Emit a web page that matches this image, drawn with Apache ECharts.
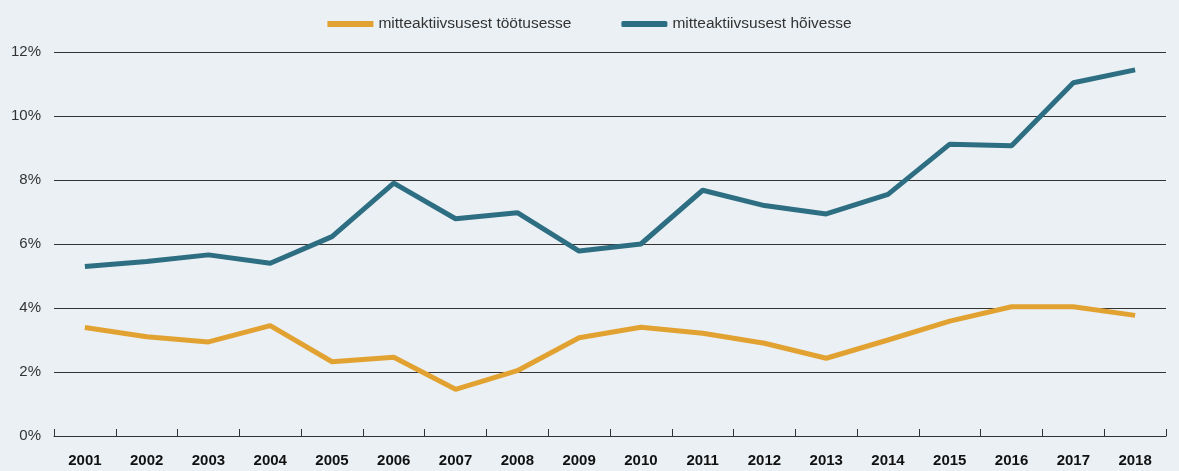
<!DOCTYPE html>
<html>
<head>
<meta charset="utf-8">
<script src="https://cdn.jsdelivr.net/npm/echarts@6/dist/echarts.min.js"></script>
<style>
	html, body { margin: 0; padding: 0; background: #eaf0f4; }
	#chart { width: 1179px; height: 471px; }
</style>
</head>
<body>
<div id="chart"></div>
<script>
	const years = ['2001', '2002', '2003', '2004', '2005', '2006', '2007', '2008', '2009',
		'2010', '2011', '2012', '2013', '2014', '2015', '2016', '2017', '2018'];
	// mitteaktiivsusest töötusesse
	const toUnemployment = [3.39, 3.1, 2.94, 3.45, 2.32, 2.46, 1.46, 2.04, 3.07,
		3.4, 3.21, 2.9, 2.43, 3.0, 3.59, 4.04, 4.04, 3.77];
	// mitteaktiivsusest hõivesse
	const toEmployment = [5.3, 5.45, 5.66, 5.4, 6.23, 7.9, 6.79, 6.98, 5.78,
		6.0, 7.68, 7.2, 6.94, 7.55, 9.12, 9.07, 11.04, 11.44];

	const orange = '#e2a232';
	const blue = '#2e6e82';

	var chart = echarts.init(document.getElementById('chart'));

	option = {
		backgroundColor: '#eaf0f4',
		textStyle: {
			fontFamily: 'Liberation Sans, Arial, sans-serif'
		},
		legend: {
			top: 11,
			left: 'center',
			itemWidth: 46,
			itemHeight: 6,
			itemGap: 50,
			textStyle: {
				color: '#333',
				fontSize: 15.5
			},
			data: [{
				name: 'mitteaktiivsusest töötusesse',
				icon: 'rect'
			}, {
				name: 'mitteaktiivsusest hõivesse',
				icon: 'roundRect'
			}]
		},
		grid: {
			left: 54,
			right: 13,
			top: 52,
			bottom: 35,
			containLabel: false
		},
		xAxis: {
			type: 'category',
			data: years,
			boundaryGap: true,
			axisLine: {
				lineStyle: {
					color: '#333',
					width: 1
				}
			},
			axisTick: {
				show: true,
				inside: true,
				length: 7,
				lineStyle: {
					color: '#333'
				}
			},
			axisLabel: {
				color: '#111',
				fontSize: 15,
				fontWeight: 'bold',
				margin: 17
			},
			splitLine: {
				show: false
			}
		},
		yAxis: {
			type: 'value',
			min: 0,
			max: 12,
			interval: 2,
			axisLine: {
				show: false
			},
			axisTick: {
				show: false
			},
			axisLabel: {
				color: '#333',
				fontSize: 15,
				margin: 13,
				formatter: '{value}%'
			},
			splitLine: {
				lineStyle: {
					color: '#333',
					width: 1
				}
			}
		},
		series: [{
			name: 'mitteaktiivsusest töötusesse',
			type: 'line',
			data: toUnemployment,
			showSymbol: false,
			symbol: 'none',
			lineStyle: {
				width: 5,
				color: orange
			},
			itemStyle: {
				color: orange
			}
		}, {
			name: 'mitteaktiivsusest hõivesse',
			type: 'line',
			data: toEmployment,
			showSymbol: false,
			symbol: 'none',
			lineStyle: {
				width: 5,
				color: blue
			},
			itemStyle: {
				color: blue
			}
		}]
	};

	chart.setOption(option);
</script>
</body>
</html>
